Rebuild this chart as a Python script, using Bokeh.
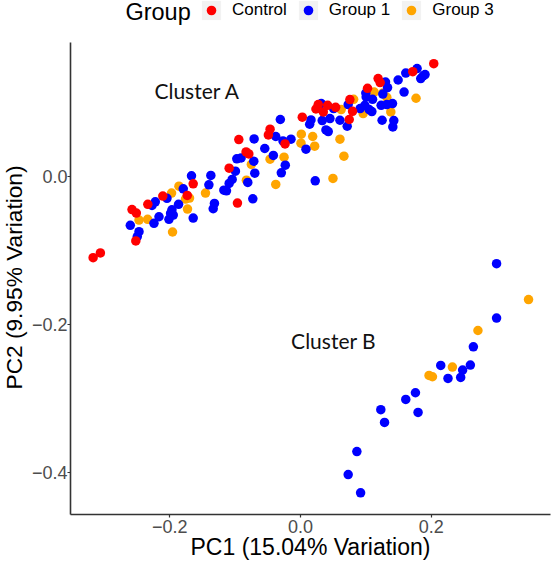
from bokeh.plotting import figure
from bokeh.models import Legend, LegendItem, Label, FixedTicker, Title
from bokeh.embed import file_html
from bokeh.resources import INLINE

control_x = [-0.0945,-0.0834,-0.0792,-0.1093,-0.0966,-0.1643,-0.1734,-0.2108,-0.2337,-0.2579,-0.2513,-0.2521,-0.3174,-0.3063,
             0.2037,0.1716,0.1186,0.1217,0.1024,0.0754,0.0795,0.0744,0.0536,0.0414,0.0270,0.0235,0.0347,0.0026,-0.0467,-0.0493,-0.0238]
control_y = [0.0494,0.0327,0.0300,0.0108,-0.0364,-0.0104,-0.0260,-0.0269,-0.0381,-0.0451,-0.0498,-0.0875,-0.1100,-0.1037,
             0.1518,0.1410,0.1316,0.1262,0.1185,0.1033,0.0875,0.0764,0.0929,0.0956,0.0966,0.0906,0.0866,0.0795,0.0633,0.0556,0.0435]

group1_x = [-0.0711,-0.0976,-0.0910,-0.0716,-0.0997,-0.0701,-0.1669,-0.1373,-0.1047,-0.1093,-0.0808,-0.1403,-0.1795,-0.1174,-0.1134,
            -0.0731,-0.2044,-0.2223,-0.2273,-0.1867,-0.1318,-0.1337,-0.1968,-0.1989,-0.1948,-0.2166,-0.1643,-0.2014,-0.2243,-0.2605,-0.2472,-0.2498,
            0.1782,0.1609,0.1904,0.1873,0.1838,0.1492,0.1583,0.1299,0.1330,0.1258,0.0998,0.1003,0.1101,0.0728,0.1406,0.1319,0.1232,0.0983,0.0911,
            0.1049,0.1090,0.1247,0.1426,0.1411,0.0713,0.0602,0.0449,0.0331,0.0159,0.0139,0.0388,0.0423,0.0316,0.0505,-0.0310,-0.0380,-0.0269,-0.0147,
            -0.0548,0.0082,-0.0417,-0.0234,-0.0295,0.0224,
            0.2998,0.2998,0.2643,0.2597,0.2479,0.2449,0.2144,0.2255,0.1757,0.1609,0.1797,0.1227,0.1284,0.0861,0.0728,0.0918]
group1_y = [0.0502,0.0233,0.0246,0.0202,0.0067,0.0040,0.0004,0.0009,-0.0044,-0.0098,-0.0085,-0.0117,-0.0171,-0.0189,-0.0198,
            -0.0306,-0.0300,-0.0346,-0.0395,-0.0381,-0.0368,-0.0440,-0.0454,-0.0502,-0.0525,-0.0548,-0.0566,-0.0583,-0.0637,-0.0664,-0.0750,-0.0815,
            0.1451,0.1391,0.1370,0.1351,0.1316,0.1297,0.1135,0.1270,0.1195,0.1108,0.1122,0.1068,0.1037,0.0966,0.0979,0.0966,0.0956,0.0956,0.0912,
            0.0898,0.0871,0.0754,0.0750,0.0664,0.0673,0.0754,0.0777,0.0750,0.0758,0.0700,0.0624,0.0602,0.0979,0.0912,0.0764,0.0535,0.0475,0.0498,
            0.0373,0.0364,0.0279,0.0148,0.0044,-0.0063,
            -0.1181,-0.1916,-0.2303,-0.2549,-0.2617,-0.2717,-0.2555,-0.2730,-0.2923,-0.3013,-0.3188,-0.3152,-0.3323,-0.3717,-0.4027,-0.4273]

group3_x = [-0.1861,-0.1974,-0.1455,-0.1699,-0.1760,-0.1730,-0.2472,-0.2340,-0.1959,-0.0753,-0.0829,0.1766,0.1319,0.1125,0.1258,0.1380,0.0811,
            0.0621,0.0957,0.0011,0.0006,0.0185,0.0215,0.0602,0.0663,-0.0253,-0.0467,0.0495,-0.0380,0.3487,0.2713,0.2322,0.1965,0.2017]
group3_y = [-0.0135,-0.0229,-0.0229,-0.0296,-0.0310,-0.0444,-0.0593,-0.0583,-0.0754,0.0158,-0.0054,0.1051,0.1064,0.1135,0.1122,0.0866,0.1037,
            0.0898,0.0844,0.0566,0.0444,0.0535,0.0404,0.0498,0.0269,0.0256,0.0229,-0.0031,-0.0112,-0.1666,-0.2083,-0.2576,-0.2690,-0.2707]

x_ticks = [-0.2, 0.0, 0.2]
x_tick_labels = ["\u22120.2", "0.0", "0.2"]
y_ticks = [-0.4, -0.2, 0.0]
y_tick_labels = ["\u22120.4", "\u22120.2", "0.0"]

p = figure(width=557, height=562, output_backend="svg", toolbar_location=None,
           x_range=(-0.3520, 0.3823), y_range=(-0.4566, 0.2370),
           min_border_left=73, min_border_right=3, min_border_top=0, min_border_bottom=47,
           background_fill_color="white", outline_line_color=None,
           x_axis_label="PC1 (15.04% Variation)")
p.margin = (0, 0, 0, -4)
p.grid.visible = False

for ax, ticks, labels in ((p.xaxis[0], x_ticks, x_tick_labels), (p.yaxis[0], y_ticks, y_tick_labels)):
    ax.ticker = FixedTicker(ticks=ticks)
    ax.major_label_overrides = dict(zip(ticks, labels))
    ax.axis_line_color = "#333333"
    ax.axis_line_width = 1.6
    ax.major_tick_line_color = "#333333"
    ax.major_tick_line_width = 1.2
    ax.major_tick_in = 0
    ax.major_tick_out = 3
    ax.minor_tick_line_color = None
    ax.major_label_text_color = "#4d4d4d"
    ax.major_label_text_font = "Liberation Sans"
    ax.major_label_text_font_size = "18px"
    ax.major_label_standoff = 0
    ax.major_label_text_line_height = 1.0
xa = p.xaxis[0]
xa.axis_label_text_font = "Liberation Sans"
xa.axis_label_text_font_size = "23px"
xa.axis_label_text_font_style = "normal"
xa.axis_label_text_color = "black"
xa.axis_label_text_line_height = 1.0
xa.axis_label_standoff = -2
xa.major_label_standoff = 2
p.yaxis[0].bounds = (-0.4566, 0.1805)

r3 = p.scatter(group3_x, group3_y, size=9.5, color="orange", line_width=0)
r1 = p.scatter(group1_x, group1_y, size=9.5, color="blue", line_width=0)
rc = p.scatter(control_x, control_y, size=9.5, color="red", line_width=0)

key_bg = p.quad(left=[float("nan")], right=[float("nan")], top=[float("nan")], bottom=[float("nan")],
                fill_color="#f2f2f2", line_color=None)

legend = Legend(items=[LegendItem(label="Control", renderers=[key_bg, rc]),
                       LegendItem(label="Group 1", renderers=[key_bg, r1]),
                       LegendItem(label="Group 3", renderers=[key_bg, r3])],
                orientation="horizontal",
                label_text_font="Liberation Sans", label_text_font_size="17px",
                label_text_color="black", label_standoff=9, label_height=24,
                glyph_width=24, glyph_height=24, spacing=9, padding=0, margin=0,
                border_line_color=None, background_fill_color=None, background_fill_alpha=0,
                location=(129, 492))
p.add_layout(legend, "center")

p.add_layout(Label(x=-0.2680, y=0.2209, text="Group", text_font="Liberation Sans", text_font_size="23.5px",
                   text_color="black", text_align="left", text_baseline="middle"))
p.add_layout(Label(x=-0.2236, y=0.1158, text="Cluster A", text_font="Lato", text_font_size="21px",
                   text_color="#111111", text_align="left", text_baseline="middle"))
p.add_layout(Label(x=-0.0145, y=-0.2223, text="Cluster B", text_font="Lato", text_font_size="21px",
                   text_color="#111111", text_align="left", text_baseline="middle"))
p.add_layout(Title(text="PC2 (9.95% Variation)", align="left", offset=125, standoff=4,
                   text_font="Liberation Sans", text_font_size="22.7px", text_font_style="normal",
                   text_color="black", text_line_height=1.0), "left")

open("out.html", "w").write(file_html(p, INLINE))
